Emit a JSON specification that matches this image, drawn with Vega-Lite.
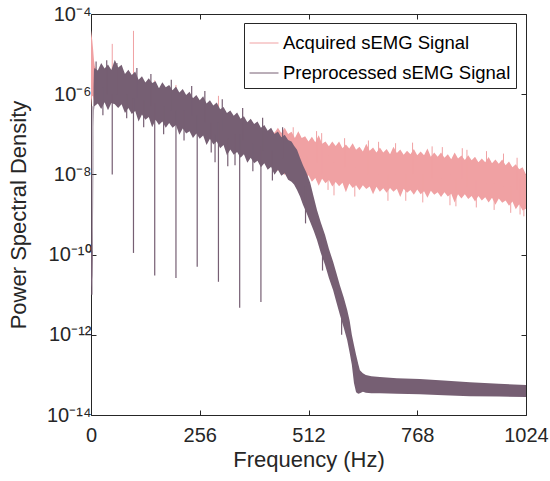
{
  "$schema": "https://vega.github.io/schema/vega-lite/v6.json",
  "width": 435,
  "height": 401,
  "autosize": "none",
  "padding": {"left": 91, "top": 14, "right": 24, "bottom": 66},
  "config": {
    "font": "Liberation Sans",
    "view": {"stroke": "#262626", "strokeWidth": 1},
    "axis": {"grid": false, "domain": false, "tickColor": "#262626", "tickSize": -5, "tickWidth": 1, "labelColor": "#262626", "titleColor": "#262626", "labelFont": "Liberation Sans", "titleFont": "Liberation Sans", "titleFontWeight": "normal"}
  },
  "datasets": {
    "pinkBand": [
      {"f":0,"lo":4e-7,"hi":4e-5},{"f":1.5,"lo":7e-7,"hi":3e-5},{"f":3,"lo":9e-7,"hi":2.2e-5},{"f":5,"lo":9e-7,"hi":1.3e-5},{"f":7,"lo":7e-7,"hi":7e-6},{"f":9,"lo":6e-7,"hi":5e-6},
      {"f":16,"lo":6.6e-7,"hi":3.5e-6},{"f":40,"lo":7.1e-7,"hi":3.8e-6},{"f":64,"lo":6.8e-7,"hi":3.6e-6},{"f":88,"lo":5.0e-7,"hi":2.7e-6},{"f":112,"lo":3.8e-7,"hi":2.0e-6},{"f":136,"lo":3.0e-7,"hi":1.6e-6},{"f":160,"lo":2.5e-7,"hi":1.35e-6},{"f":184,"lo":2.2e-7,"hi":1.17e-6},{"f":208,"lo":1.74e-7,"hi":9.3e-7},{"f":232,"lo":1.35e-7,"hi":7.2e-7},{"f":256,"lo":1.12e-7,"hi":6.0e-7},{"f":280,"lo":8.9e-8,"hi":4.8e-7},{"f":304,"lo":6.8e-8,"hi":3.6e-7},{"f":328,"lo":4.8e-8,"hi":2.6e-7},{"f":352,"lo":4.0e-8,"hi":2.1e-7},{"f":376,"lo":3.0e-8,"hi":1.6e-7},{"f":400,"lo":2.35e-8,"hi":1.26e-7},{"f":424,"lo":2.0e-8,"hi":1.15e-7},{"f":432,"lo":1.3e-8,"hi":1.1e-7},
      {"f":440,"lo":1.23e-8,"hi":1.45e-7},{"f":448,"lo":1.45e-8,"hi":1.07e-7},{"f":456,"lo":9.5e-9,"hi":1.45e-7},{"f":464,"lo":1.3e-8,"hi":1.02e-7},{"f":472,"lo":1.0e-8,"hi":1.15e-7},{"f":480,"lo":1.2e-8,"hi":8.1e-8},{"f":488,"lo":6.3e-9,"hi":1.2e-7},{"f":496,"lo":9.8e-9,"hi":8.1e-8},{"f":504,"lo":7.9e-9,"hi":8.9e-8},{"f":512,"lo":9.5e-9,"hi":6.6e-8},{"f":520,"lo":6.6e-9,"hi":8.7e-8},{"f":528,"lo":8.1e-9,"hi":6.3e-8},{"f":536,"lo":5.2e-9,"hi":9.5e-8},{"f":544,"lo":7.8e-9,"hi":5.8e-8},{"f":552,"lo":6.0e-9,"hi":6.6e-8},{"f":560,"lo":7.2e-9,"hi":5.0e-8},{"f":568,"lo":5.0e-9,"hi":6.6e-8},{"f":576,"lo":6.5e-9,"hi":5.1e-8},{"f":584,"lo":5.1e-9,"hi":6.6e-8},{"f":592,"lo":6.2e-9,"hi":4.5e-8},{"f":600,"lo":3.6e-9,"hi":5.6e-8},{"f":608,"lo":5.9e-9,"hi":4.4e-8},{"f":616,"lo":4.6e-9,"hi":6.0e-8},{"f":624,"lo":5.4e-9,"hi":4.1e-8},{"f":632,"lo":4.0e-9,"hi":4.9e-8},{"f":640,"lo":5.4e-9,"hi":3.7e-8},{"f":648,"lo":4.3e-9,"hi":5.8e-8},{"f":656,"lo":5.0e-9,"hi":3.9e-8},{"f":664,"lo":3.2e-9,"hi":4.7e-8},{"f":672,"lo":4.9e-9,"hi":3.5e-8},{"f":680,"lo":3.7e-9,"hi":4.7e-8},{"f":688,"lo":4.5e-9,"hi":3.5e-8},{"f":696,"lo":3.5e-9,"hi":4.3e-8},{"f":704,"lo":4.6e-9,"hi":3.2e-8},{"f":712,"lo":3.7e-9,"hi":4.9e-8},{"f":720,"lo":4.4e-9,"hi":3.4e-8},{"f":728,"lo":2.75e-9,"hi":4.2e-8},{"f":736,"lo":4.4e-9,"hi":3.1e-8},{"f":744,"lo":3.5e-9,"hi":3.9e-8},{"f":752,"lo":4.1e-9,"hi":3.2e-8},{"f":760,"lo":3.1e-9,"hi":4.3e-8},{"f":768,"lo":4.2e-9,"hi":3.0e-8},{"f":776,"lo":3.2e-9,"hi":3.7e-8},{"f":784,"lo":3.8e-9,"hi":3.0e-8},{"f":792,"lo":2.6e-9,"hi":4.4e-8},{"f":800,"lo":3.9e-9,"hi":2.75e-8},{"f":808,"lo":3.1e-9,"hi":3.5e-8},{"f":816,"lo":3.6e-9,"hi":2.75e-8},{"f":824,"lo":2.75e-9,"hi":3.5e-8},{"f":832,"lo":3.6e-9,"hi":2.6e-8},{"f":840,"lo":2.8e-9,"hi":3.2e-8},{"f":848,"lo":3.3e-9,"hi":2.4e-8},{"f":856,"lo":2.0e-9,"hi":3.5e-8},{"f":864,"lo":3.2e-9,"hi":2.5e-8},{"f":872,"lo":2.5e-9,"hi":2.95e-8},{"f":880,"lo":3.2e-9,"hi":2.3e-8},{"f":888,"lo":2.45e-9,"hi":3.0e-8},{"f":896,"lo":2.9e-9,"hi":2.25e-8},{"f":904,"lo":2.1e-9,"hi":2.75e-8},{"f":912,"lo":2.9e-9,"hi":2.0e-8},{"f":920,"lo":2.25e-9,"hi":2.5e-8},{"f":928,"lo":2.7e-9,"hi":2.0e-8},{"f":936,"lo":2.0e-9,"hi":2.7e-8},{"f":944,"lo":2.6e-9,"hi":1.9e-8},{"f":952,"lo":1.75e-9,"hi":2.35e-8},{"f":960,"lo":2.5e-9,"hi":1.85e-8},{"f":968,"lo":1.95e-9,"hi":2.35e-8},{"f":976,"lo":2.25e-9,"hi":1.7e-8},{"f":984,"lo":1.65e-9,"hi":2.1e-8},{"f":992,"lo":2.1e-9,"hi":1.5e-8},{"f":1000,"lo":1.35e-9,"hi":1.8e-8},{"f":1008,"lo":1.8e-9,"hi":1.35e-8},{"f":1016,"lo":1.26e-9,"hi":1.5e-8},{"f":1024,"lo":1.4e-9,"hi":1.0e-8}
    ],
    "pinkSpikes": [
      {"f":50,"lo":1e-6,"hi":1.8e-5},{"f":100,"lo":8e-7,"hi":3.8e-5},{"f":150,"lo":6e-7,"hi":2.2e-6},{"f":200,"lo":5e-7,"hi":1.7e-6},{"f":300,"lo":3e-7,"hi":9.1e-7},
      {"f":543,"lo":1e-8,"hi":1.07e-7},{"f":558,"lo":4.1e-9,"hi":3e-8},{"f":845,"lo":1.7e-9,"hi":1e-8},{"f":885,"lo":5e-9,"hi":4.1e-8},{"f":1010,"lo":1e-9,"hi":8e-9},
      {"f":476,"lo":3e-8,"hi":1.5e-7},{"f":509,"lo":4e-9,"hi":3e-8},{"f":531,"lo":2e-8,"hi":1.2e-7},{"f":572,"lo":3e-9,"hi":2e-8},{"f":597,"lo":1.5e-8,"hi":8e-8},{"f":621,"lo":2.8e-9,"hi":1.5e-8},{"f":653,"lo":1e-8,"hi":7e-8},{"f":677,"lo":1e-8,"hi":6.5e-8},{"f":699,"lo":2.2e-9,"hi":1e-8},{"f":717,"lo":1e-8,"hi":6e-8},{"f":741,"lo":2.2e-9,"hi":1e-8},{"f":757,"lo":1e-8,"hi":6.2e-8},{"f":781,"lo":2e-9,"hi":1e-8},{"f":803,"lo":8e-9,"hi":5e-8},{"f":827,"lo":8e-9,"hi":4.8e-8},{"f":859,"lo":1.6e-9,"hi":8e-9},{"f":874,"lo":8e-9,"hi":4.5e-8},{"f":907,"lo":1.5e-9,"hi":7e-9},{"f":931,"lo":6e-9,"hi":3.8e-8},{"f":949,"lo":1.3e-9,"hi":6e-9},{"f":971,"lo":5e-9,"hi":3.3e-8},{"f":988,"lo":1.1e-9,"hi":5e-9},{"f":1003,"lo":4e-9,"hi":2.6e-8},{"f":1019,"lo":9e-10,"hi":4e-9}
    ],
    "purpleBand": [
      {"f":0,"lo":1.5e-11,"hi":1.3e-10},{"f":1.5,"lo":1.8e-11,"hi":1.0e-10},{"f":3,"lo":3e-11,"hi":1.3e-10},{"f":4,"lo":1e-10,"hi":5e-10},{"f":5,"lo":2e-9,"hi":5e-8},{"f":6,"lo":1.5e-7,"hi":1.5e-6},{"f":7,"lo":4e-7,"hi":4e-6},
      {"f":8,"lo":5.0e-7,"hi":4.5e-6},{"f":16,"lo":5.9e-7,"hi":3.9e-6},{"f":24,"lo":4.3e-7,"hi":6.0e-6},{"f":32,"lo":6.3e-7,"hi":4.4e-6},{"f":40,"lo":4.0e-7,"hi":5.5e-6},{"f":48,"lo":6.0e-7,"hi":4.0e-6},{"f":56,"lo":5.6e-7,"hi":7.2e-6},{"f":64,"lo":4.5e-7,"hi":4.6e-6},{"f":72,"lo":5.6e-7,"hi":5.4e-6},{"f":80,"lo":3.4e-7,"hi":3.2e-6},{"f":88,"lo":4.5e-7,"hi":4.1e-6},{"f":96,"lo":3.2e-7,"hi":3.0e-6},{"f":104,"lo":3.8e-7,"hi":3.7e-6},{"f":112,"lo":2.1e-7,"hi":2.3e-6},{"f":120,"lo":3.1e-7,"hi":2.8e-6},{"f":128,"lo":2.3e-7,"hi":1.95e-6},{"f":136,"lo":2.7e-7,"hi":2.5e-6},{"f":144,"lo":1.5e-7,"hi":1.9e-6},{"f":152,"lo":2.3e-7,"hi":2.1e-6},{"f":160,"lo":1.7e-7,"hi":1.4e-6},{"f":168,"lo":2.1e-7,"hi":2.0e-6},{"f":176,"lo":1.45e-7,"hi":1.5e-6},{"f":184,"lo":1.9e-7,"hi":1.7e-6},{"f":192,"lo":1.45e-7,"hi":1.26e-6},{"f":200,"lo":1.7e-7,"hi":1.55e-6},{"f":208,"lo":9.8e-8,"hi":1.1e-6},{"f":216,"lo":1.4e-7,"hi":1.35e-6},{"f":224,"lo":1.05e-7,"hi":9.5e-7},{"f":232,"lo":1.2e-7,"hi":1.15e-6},{"f":240,"lo":8.1e-8,"hi":7.9e-7},{"f":248,"lo":1.05e-7,"hi":9.5e-7},{"f":256,"lo":7.8e-8,"hi":7.1e-7},{"f":264,"lo":9.3e-8,"hi":8.9e-7},{"f":272,"lo":5.4e-8,"hi":5.9e-7},{"f":280,"lo":7.8e-8,"hi":7.1e-7},{"f":288,"lo":5.6e-8,"hi":5.2e-7},{"f":296,"lo":6.6e-8,"hi":6.2e-7},{"f":304,"lo":4.5e-8,"hi":4.2e-7},{"f":312,"lo":5.4e-8,"hi":4.8e-7},{"f":320,"lo":3.0e-8,"hi":3.4e-7},{"f":328,"lo":4.2e-8,"hi":3.9e-7},{"f":336,"lo":3.1e-8,"hi":2.9e-7},{"f":344,"lo":3.6e-8,"hi":3.5e-7},{"f":352,"lo":2.6e-8,"hi":2.45e-7},{"f":360,"lo":3.2e-8,"hi":2.8e-7},{"f":368,"lo":1.95e-8,"hi":2.0e-7},{"f":376,"lo":2.6e-8,"hi":2.45e-7},{"f":384,"lo":1.9e-8,"hi":1.8e-7},{"f":392,"lo":2.2e-8,"hi":2.1e-7},{"f":400,"lo":1.5e-8,"hi":1.45e-7},{"f":408,"lo":1.9e-8,"hi":1.7e-7},{"f":416,"lo":1.3e-8,"hi":1.23e-7},{"f":424,"lo":1.55e-8,"hi":1.45e-7},{"f":432,"lo":9.8e-9,"hi":1.02e-7},{"f":440,"lo":1.3e-8,"hi":1.17e-7},{"f":448,"lo":9.3e-9,"hi":8.5e-8},{"f":456,"lo":1.07e-8,"hi":9.8e-8},{"f":464,"lo":7.4e-9,"hi":7.2e-8},
      {"f":472,"lo":6.6e-9,"hi":6.6e-8},{"f":478,"lo":5.6e-9,"hi":5.2e-8},{"f":485,"lo":4.1e-9,"hi":4.1e-8},{"f":492,"lo":2.8e-9,"hi":2.6e-8},{"f":499,"lo":1.74e-9,"hi":1.7e-8},{"f":507,"lo":1.12e-9,"hi":1.12e-8},{"f":516,"lo":6.5e-10,"hi":6.2e-9},{"f":524,"lo":4.0e-10,"hi":2.8e-9},{"f":532,"lo":2.3e-10,"hi":1.3e-9},{"f":541,"lo":1.1e-10,"hi":6.3e-10},{"f":551,"lo":5.5e-11,"hi":3.1e-10},{"f":560,"lo":2.6e-11,"hi":1.4e-10},{"f":570,"lo":1.3e-11,"hi":6.6e-11},{"f":578,"lo":6.3e-12,"hi":3.4e-11},{"f":586,"lo":3.1e-12,"hi":1.7e-11},{"f":595,"lo":1.5e-12,"hi":8.5e-12},{"f":603,"lo":7.4e-13,"hi":4.2e-12},{"f":609,"lo":3.5e-13,"hi":2.2e-12},{"f":614,"lo":1.8e-13,"hi":1.0e-12},{"f":619,"lo":6.3e-14,"hi":5.6e-13},{"f":624,"lo":3.7e-14,"hi":3.2e-13},{"f":629,"lo":3.4e-14,"hi":1.9e-13},{"f":633,"lo":3.5e-14,"hi":1.3e-13},{"f":640,"lo":3.8e-14,"hi":1.1e-13},{"f":647,"lo":3.6e-14,"hi":1.0e-13},{"f":660,"lo":3.5e-14,"hi":9.3e-14},{"f":680,"lo":3.5e-14,"hi":8.9e-14},{"f":720,"lo":3.4e-14,"hi":8.3e-14},{"f":774,"lo":3.3e-14,"hi":7.9e-14},{"f":830,"lo":3.1e-14,"hi":7.2e-14},{"f":892,"lo":2.95e-14,"hi":6.6e-14},{"f":960,"lo":2.9e-14,"hi":6.0e-14},{"f":1024,"lo":2.8e-14,"hi":5.6e-14}
    ],
    "purpleSpikes": [
      {"f":50,"lo":1e-8,"hi":1e-6},{"f":100,"lo":1.1e-10,"hi":8e-7},{"f":150,"lo":3e-11,"hi":6e-7},{"f":200,"lo":2.6e-11,"hi":4e-7},{"f":250,"lo":5e-11,"hi":3e-7},{"f":300,"lo":2.1e-11,"hi":2e-7},{"f":350,"lo":4.7e-12,"hi":1e-7},{"f":400,"lo":6.6e-12,"hi":5e-8},
      {"f":292,"lo":2e-8,"hi":1e-7},{"f":322,"lo":1.6e-8,"hi":8e-8},{"f":2,"lo":1e-11,"hi":5e-7},
      {"f":12,"lo":1e-6,"hi":6.5e-6},{"f":28,"lo":3e-7,"hi":1.5e-6},{"f":37,"lo":1e-6,"hi":7e-6},{"f":61,"lo":1e-6,"hi":6e-6},{"f":84,"lo":2.5e-7,"hi":1e-6},{"f":108,"lo":8e-7,"hi":4.5e-6},{"f":124,"lo":1.5e-7,"hi":7e-7},{"f":141,"lo":5e-7,"hi":3.2e-6},{"f":171,"lo":1e-7,"hi":5e-7},{"f":189,"lo":4e-7,"hi":2.3e-6},{"f":219,"lo":7e-8,"hi":4e-7},{"f":237,"lo":3e-7,"hi":1.6e-6},{"f":268,"lo":2e-7,"hi":1.2e-6},{"f":283,"lo":3.5e-8,"hi":2e-7},{"f":309,"lo":1.2e-7,"hi":7.5e-7},{"f":339,"lo":1.7e-8,"hi":1e-7},{"f":357,"lo":7e-8,"hi":4.5e-7},{"f":381,"lo":1.2e-8,"hi":6e-8},{"f":404,"lo":4e-8,"hi":2.6e-7},{"f":427,"lo":7e-9,"hi":4e-8},{"f":451,"lo":2.5e-8,"hi":1.5e-7},
      {"f":505,"lo":6e-10,"hi":5e-9},{"f":545,"lo":4e-11,"hi":3e-10},{"f":590,"lo":1e-12,"hi":8e-12}
    ]
  },
  "resolve": {"axis": {"x": "independent", "y": "independent"}},
  "layer": [
    {
      "data": {"name": "pinkBand"},
      "mark": {"type": "area", "interpolate": "linear"},
      "encoding": {
        "x": {"field": "f", "type": "quantitative", "scale": {"domain": [0, 1024], "nice": false, "zero": false},
          "axis": {"orient": "bottom", "values": [0, 256, 512, 768, 1024], "format": "d", "title": "Frequency (Hz)", "labelFontSize": 20, "titleFontSize": 22, "labelPadding": 15, "titlePadding": 4, "labelFlush": false, "labelOverlap": false}},
        "y": {"field": "hi", "type": "quantitative", "stack": null, "scale": {"type": "log", "domain": [1e-14, 1e-4], "nice": false},
          "axis": {"orient": "left", "values": [1e-14, 1e-12, 1e-10, 1e-8, 1e-6, 1e-4], "title": "Power Spectral Density", "labelFontSize": 20, "titleFontSize": 22, "labelPadding": 5, "titlePadding": 16, "labelOverlap": false, "labelFlush": false,
            "labelExpr": "'10' + replace(replace(replace(replace(replace(replace(replace('' + round(log(datum.value)/LN10), '-', '⁻'), '1', '¹'), '0', '⁰'), '2', '²'), '4', '⁴'), '6', '⁶'), '8', '⁸')"}},
        "y2": {"field": "lo"},
        "color": {"datum": "Acquired sEMG Signal", "type": "nominal",
          "scale": {"domain": ["Acquired sEMG Signal", "Preprocessed sEMG Signal"], "range": ["#F0A1A3", "#765F73"]},
          "legend": {"title": null, "orient": "none", "legendX": 153, "legendY": 9, "symbolType": "stroke", "symbolSize": 841, "symbolStrokeWidth": 1, "labelFontSize": 18.5, "labelLimit": 400, "labelColor": "#000000", "labelOffset": 4, "padding": 5, "rowPadding": 5, "strokeColor": "#262626", "fillColor": "#ffffff",
            "encode": {"symbols": {"update": {"stroke": {"scale": "color", "field": "value"}, "opacity": {"value": 1}, "strokeOpacity": {"value": 1}}}}}
        }
      }
    },
    {
      "data": {"name": "pinkSpikes"},
      "mark": {"type": "rule", "strokeWidth": 1},
      "encoding": {
        "x": {"field": "f", "type": "quantitative", "axis": {"orient": "top", "values": [0, 256, 512, 768, 1024], "labels": false, "title": null}},
        "y": {"field": "hi", "type": "quantitative", "axis": {"orient": "right", "values": [1e-14, 1e-12, 1e-10, 1e-8, 1e-6, 1e-4], "labels": false, "title": null}},
        "y2": {"field": "lo"},
        "color": {"datum": "Acquired sEMG Signal", "type": "nominal", "legend": null}
      }
    },
    {
      "data": {"name": "purpleBand"},
      "mark": {"type": "area", "interpolate": "linear"},
      "encoding": {
        "x": {"field": "f", "type": "quantitative", "axis": null},
        "y": {"field": "hi", "type": "quantitative", "stack": null, "axis": null},
        "y2": {"field": "lo"},
        "color": {"datum": "Preprocessed sEMG Signal", "type": "nominal", "legend": null}
      }
    },
    {
      "data": {"name": "purpleSpikes"},
      "mark": {"type": "rule", "strokeWidth": 1.2},
      "encoding": {
        "x": {"field": "f", "type": "quantitative", "axis": null},
        "y": {"field": "hi", "type": "quantitative", "axis": null},
        "y2": {"field": "lo"},
        "color": {"datum": "Preprocessed sEMG Signal", "type": "nominal", "legend": null}
      }
    }
  ]
}
